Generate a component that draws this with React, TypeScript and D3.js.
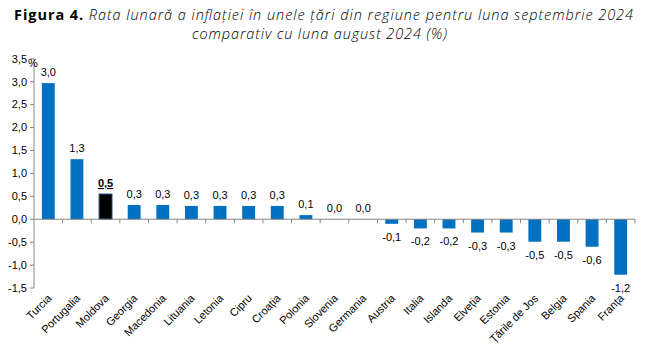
import React from "react";
import * as d3 from "d3";

const categories = ["Turcia","Portugalia","Moldova","Georgia","Macedonia","Lituania","Letonia","Cipru","Croația","Polonia","Slovenia","Germania","Austria","Italia","Islanda","Elveția","Estonia","Țările de Jos","Belgia","Spania","Franța"];
const values = [2.97,1.31,0.55,0.31,0.31,0.29,0.29,0.29,0.29,0.09,0.0,0.0,-0.1,-0.2,-0.2,-0.29,-0.29,-0.49,-0.49,-0.6,-1.21];
const labels = ["3,0","1,3","0,5","0,3","0,3","0,3","0,3","0,3","0,3","0,1","0,0","0,0","-0,1","-0,2","-0,2","-0,3","-0,3","-0,5","-0,5","-0,6","-1,2"];
const yTicks = [3.5,3.0,2.5,2.0,1.5,1.0,0.5,0.0,-0.5,-1.0,-1.5];
const highlight = "Moldova";

export default function App() {
  const W = 654, H = 360;
  const left = 34, right = 635, top = 58.8, bottom = 288;
  const x = d3.scaleBand().domain(categories).range([left, right]).paddingInner(0.55).paddingOuter(0.275);
  const xb = d3.scaleBand().domain(categories).range([left, right]);
  const y = d3.scaleLinear().domain([-1.5, 3.5]).range([bottom, top]);
  const fmt = (v: number) => v.toFixed(1).replace(".", ",");
  const font = "Liberation Sans, Arial, sans-serif";
  const tfont = "'Open Sans', sans-serif";
  return (
    <svg width={W} height={H} style={{ position: "absolute", left: 0, top: 0 }}>
      <rect width={W} height={H} fill="#fff" />
      <text x={14} y={20} fontFamily={tfont} fontSize={14.5} fill="#000" textLength={619} lengthAdjust="spacing">
        <tspan fontWeight="bold">Figura 4.</tspan>
        <tspan fontStyle="italic" fontWeight="300"> Rata lunară a inflației în unele țări din regiune pentru luna septembrie 2024</tspan>
      </text>
      <text x={192} y={38.5} fontFamily={tfont} fontSize={14.5} fontStyle="italic" fontWeight="300" fill="#000" textLength={255} lengthAdjust="spacing">comparativ cu luna august 2024 (%)</text>
      {/* y axis */}
      <line x1={left} x2={left} y1={y(3.5)} y2={y(-1.5)} stroke="#868686" strokeWidth={1} />
      {yTicks.map((t) => (
        <g key={t}>
          <line x1={left - 4} x2={left} y1={y(t)} y2={y(t)} stroke="#868686" />
          <text x={left - 7} y={y(t)} dy="0.35em" textAnchor="end" fontFamily={font} fontSize={11} fill="#000">{fmt(t)}</text>
        </g>
      ))}
      <text x={28} y={y(3.5) + 8} fontFamily={font} fontSize={11} fill="#000">%</text>
      {/* bars */}
      {categories.map((c, i) => {
        const v = values[i];
        const y0 = y(Math.max(0, v));
        const h = Math.abs(y(v) - y(0));
        const isH = c === highlight;
        return (
          <rect key={c} x={x(c)} y={y0} width={x.bandwidth()} height={h}
            fill={isH ? "#000" : "#0070C0"} stroke={isH ? "#1F497D" : "none"} strokeWidth={isH ? 1 : 0} />
        );
      })}
      {/* x axis at zero */}
      <line x1={left} x2={right} y1={y(0)} y2={y(0)} stroke="#868686" />
      {categories.map((c) => (
        <line key={"t" + c} x1={xb(c)! + xb.bandwidth()} x2={xb(c)! + xb.bandwidth()} y1={y(0)} y2={y(0) + 4} stroke="#868686" />
      ))}
      {/* value labels */}
      {categories.map((c, i) => {
        const v = values[i];
        const cx = x(c)! + x.bandwidth() / 2;
        const isH = c === highlight;
        const ly = v >= 0 ? y(v) - 7 : y(v) + 17;
        return (
          <text key={"l" + c} x={cx} y={ly} textAnchor="middle" fontFamily={font} fontSize={11}
            fontWeight={isH ? "bold" : "normal"} textDecoration={isH ? "underline" : "none"} fill="#000">{labels[i]}</text>
        );
      })}
      {/* category labels */}
      {categories.map((c) => {
        const cx = x(c)! + x.bandwidth() / 2 + 4;
        const ly = 299;
        return (
          <text key={"c" + c} transform={`translate(${cx},${ly}) rotate(-45)`} textAnchor="end"
            fontFamily={font} fontSize={11} fill="#000">{c}</text>
        );
      })}
    </svg>
  );
}
